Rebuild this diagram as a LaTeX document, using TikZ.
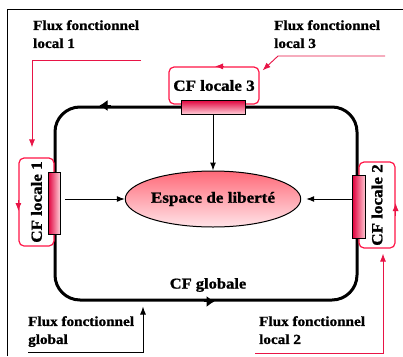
\documentclass[tikz,border=0pt]{standalone}
\usepackage{fontspec}
\setmainfont{Liberation Serif}[FakeStretch=1.1, BoldFeatures={FakeBold=1.2}]
\usetikzlibrary{arrows.meta,shapes.geometric,calc}
\definecolor{fred}{RGB}{232,20,70}
\definecolor{boxred}{RGB}{255,20,70}
\definecolor{bardark}{RGB}{225,0,60}
\definecolor{barlight}{RGB}{255,205,215}
\definecolor{elltop}{RGB}{255,105,120}
\definecolor{ellbot}{RGB}{255,228,232}
\begin{document}
\begin{tikzpicture}[x=1pt,y=-1pt,
  flux/.style={font=\bfseries\fontsize{13.8}{18}\selectfont, align=left, anchor=north west, inner sep=0pt},
  cfbox/.style={draw=boxred, line width=1.2pt, rounded corners=5pt, fill=white, font=\bfseries\fontsize{15.5}{18}\selectfont, inner sep=0pt},
  hbar/.style={draw=black, line width=0.6pt, inner sep=0pt, top color=bardark, bottom color=barlight},
  vbar/.style={draw=black, line width=0.6pt, inner sep=0pt, left color=bardark, right color=barlight},
  arr/.style={-{Latex[length=8pt,width=6pt]}, line width=1pt},
  edgearr/.style={-{Latex[length=8pt,width=11pt]}, line width=1pt},
  rarr/.style={draw=fred, -{Latex[length=8pt,width=6pt]}, line width=0.9pt}]
\useasboundingbox (0,0) rectangle (403,356);
\fill[white] (0,0) rectangle (403,356);
% frame
\draw[line width=0.8pt] (7,356) -- (7,9) -- (403,9);

% global functional contour
\node[draw, line width=3pt, rounded corners=25pt, minimum width=302pt, minimum height=193pt, inner sep=0pt] (cfg) at (206,203.5) {};
\draw[edgearr] ($(cfg.north west)+(57,0)$) -- ($(cfg.north west)+(46,0)$);
\draw[edgearr] ($(cfg.south west)+(150,0)$) -- ($(cfg.south west)+(161,0)$);
\node[font=\bfseries\fontsize{15}{18}\selectfont] (cfgl) at (208,285) {CF globale};

% espace de liberte
\node[ellipse, draw, line width=1pt, minimum width=132pt, minimum height=56pt, inner sep=0pt,
  top color=elltop, bottom color=ellbot, font=\bfseries\fontsize{15.5}{18}\selectfont] (esp) at (213,199) {Espace de libert\'e};

% CF locale 3
\node[cfbox, minimum width=90pt, minimum height=37pt] (loc3) at (214,85.5) {CF locale 3};
\node[hbar, minimum width=64pt, minimum height=14pt] (bar3) at (213,107) {};
\draw[rarr] ([xshift=10pt]loc3.north) -- ([xshift=1pt]loc3.north);
\draw[arr] (bar3.south) -- (esp.north);

% CF locale 1
\node[cfbox, minimum width=35pt, minimum height=88pt] (loc1) at (36.5,202) {\rotatebox{90}{CF locale 1}};
\node[vbar, minimum width=12pt, minimum height=62pt] (bar1) at (54,203) {};
\draw[rarr] ([yshift=2pt]loc1.west) -- ([yshift=-9pt]loc1.west);
\draw[arr] ($(bar1.east |- esp.west)+(5,0)$) -- (esp.west);

% CF locale 2
\node[cfbox, minimum width=36pt, minimum height=86pt] (loc2) at (377,205) {\rotatebox{90}{CF locale 2}};
\node[vbar, minimum width=13pt, minimum height=63pt] (bar2) at (359,206.5) {};
\draw[rarr] ([yshift=-11pt]loc2.east) -- ([yshift=2pt]loc2.east);
\draw[arr] (bar2.west |- esp.east) -- ($(esp.east)+(5,0)$);

% flux labels
\node[flux] (fl1) at (33,20) {Flux fonctionnel\\local 1};
\coordinate (f1a) at (141,60);
\coordinate (f1b) at (32,60);
\draw[rarr] (f1a) -- (f1b) -- ($(f1b |- loc1.north)+(0,-10)$);

\node[flux] (fl3) at (274,20) {Flux fonctionnel\\local 3};
\coordinate (f3a) at (385,56);
\coordinate (f3b) at (278,56);
\draw[rarr] (f3a) -- (f3b) -- ($(loc3.north east)+(3,4)$);

\node[flux] (fl2) at (259,316) {Flux fonctionnel\\local 2};
\coordinate (f2a) at (255,353);
\coordinate (f2b) at (383,353);
\draw[rarr] (f2a) -- (f2b) -- ($(f2b |- loc2.south)+(0,5)$);

\node[flux] (flg) at (28,316) {Flux fonctionnel\\global};
\coordinate (g1) at (28,352);
\coordinate (g2) at (143,352);
\draw[arr] (g1) -- (g2) -- ($(g2 |- cfg.south)+(0,5)$);
\end{tikzpicture}
\end{document}
